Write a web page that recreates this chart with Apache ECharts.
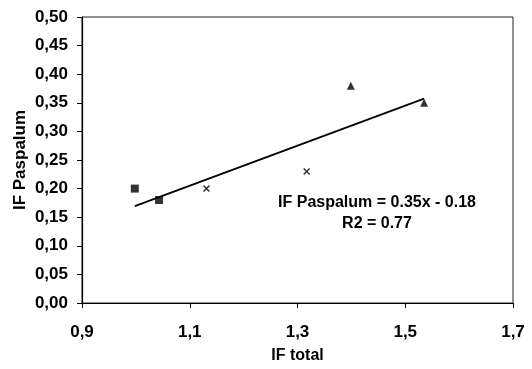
<!DOCTYPE html>
<html>
<head>
<meta charset="utf-8">
<script src="https://cdn.jsdelivr.net/npm/echarts@6/dist/echarts.min.js"></script>
<style>html,body{margin:0;padding:0;background:#fff}#c{width:532px;height:369px}</style>
</head>
<body>
<div id="c"></div>
<script>
// Data
const squareX = [0.998, 1.043];
const squareY = [0.20, 0.18];
const crossX = [1.131, 1.317];
const crossY = [0.20, 0.23];
const triX = [1.399, 1.535];
const triY = [0.38, 0.35];
const slope = 0.35;
const intercept = -0.18;
const eqText = 'IF Paspalum = 0.35x - 0.18';
const r2Text = 'R2 = 0.77';
const xAxisName = 'IF total';
const yAxisName = 'IF Paspalum';

const allX = squareX.concat(crossX, triX);
const xmin = Math.min(...allX), xmax = Math.max(...allX);
const trend = [[xmin, slope*xmin+intercept],[xmax, slope*xmax+intercept]];

const zip = (a,b)=>a.map((v,i)=>[v,b[i]]);
const font = 'Liberation Sans, Arial, sans-serif';
const crossPath = 'path://M0,1.5 L1.5,0 L5,3.5 L8.5,0 L10,1.5 L6.5,5 L10,8.5 L8.5,10 L5,6.5 L1.5,10 L0,8.5 L3.5,5 Z';

const chart = echarts.init(document.getElementById('c'), null, {renderer:'canvas'});
chart.setOption({
  backgroundColor:'#fff',
  animation:false,
  grid:{left:82, right:19, top:17, bottom:64, show:true, borderColor:'#222', borderWidth:1, backgroundColor:'transparent'},
  xAxis:{
    type:'value', min:0.9, max:1.7, interval:0.2,
    name:xAxisName, nameLocation:'middle', nameGap:45, nameMoveOverlap:false,
    nameTextStyle:{fontFamily:font, fontWeight:'bold', fontSize:16, color:'#000'},
    axisLine:{show:true, onZero:false, lineStyle:{color:'#000', width:1.2}},
    axisTick:{show:true, inside:false, length:5, lineStyle:{color:'#000'}},
    splitLine:{show:false},
    axisLabel:{margin:21, fontFamily:font, fontWeight:'bold', fontSize:17, color:'#000',
      formatter:v=>v.toFixed(1).replace('.',',')}
  },
  yAxis:{
    type:'value', min:0, max:0.5, interval:0.05,
    name:yAxisName, nameLocation:'middle', nameGap:53, nameRotate:90, nameMoveOverlap:false,
    nameTextStyle:{fontFamily:font, fontWeight:'bold', fontSize:17, color:'#000'},
    axisLine:{show:true, onZero:false, lineStyle:{color:'#000', width:1.2}},
    axisTick:{show:true, inside:false, length:5, lineStyle:{color:'#000'}},
    splitLine:{show:false},
    axisLabel:{margin:14, fontFamily:font, fontWeight:'bold', fontSize:17, color:'#000',
      formatter:v=>v.toFixed(2).replace('.',',')}
  },
  series:[
    {type:'line', data:trend, symbol:'none', lineStyle:{color:'#000', width:1.8}, z:1},
    {type:'scatter', data:zip(squareX,squareY), symbol:'rect', symbolSize:8, itemStyle:{color:'#000'}, z:3},
    {type:'scatter', data:zip(crossX,crossY), symbol:crossPath, symbolSize:7, itemStyle:{color:'#000'}, z:3},
    {type:'scatter', data:zip(triX,triY), symbol:'triangle', symbolSize:8, itemStyle:{color:'#000'}, z:3}
  ],
  graphic:[
    {type:'text', x:377, y:203, style:{text:eqText, fontFamily:font, fontWeight:'bold', fontSize:16, fill:'#000', align:'center', verticalAlign:'middle'}},
    {type:'text', x:377, y:224, style:{text:r2Text, fontFamily:font, fontWeight:'bold', fontSize:16, fill:'#000', align:'center', verticalAlign:'middle'}}
  ]
});
</script>
</body>
</html>
